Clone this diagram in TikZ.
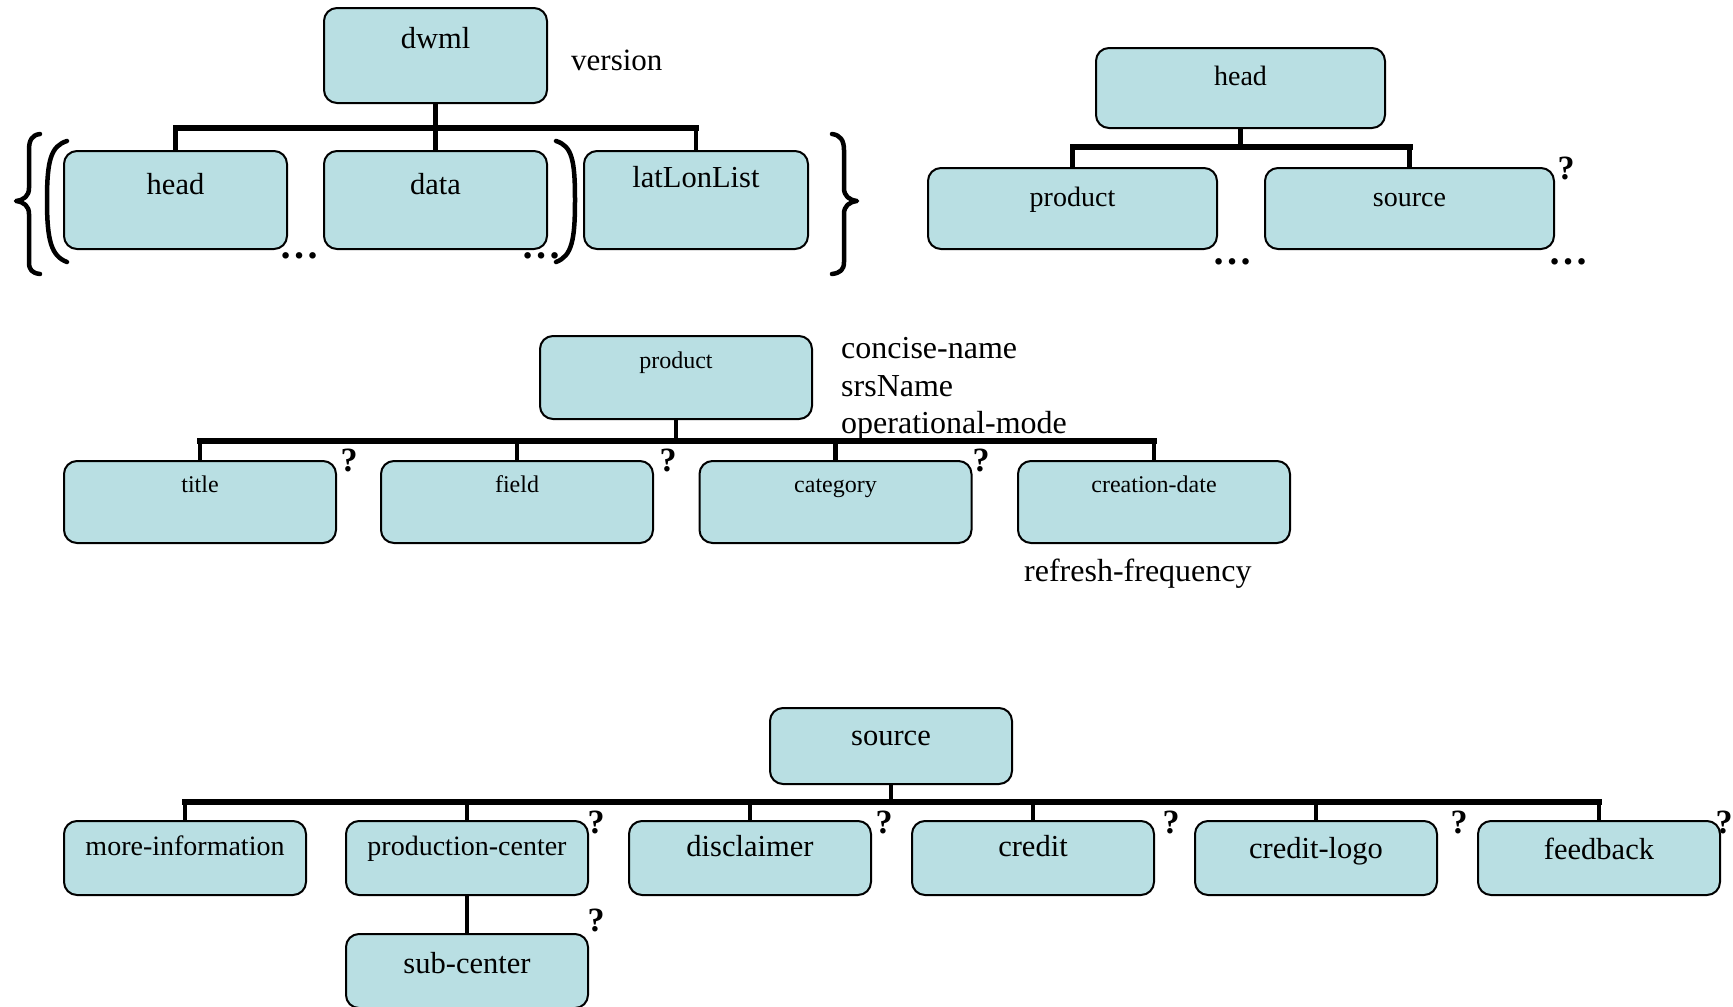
\documentclass[tikz,border=0pt]{standalone}
\usepackage{fontspec}
\setmainfont{Liberation Serif}
\usetikzlibrary{calc}
\definecolor{boxfill}{RGB}{185,223,227}
\newcommand\fsz[1]{\fontsize{#1}{#1}\selectfont}
\begin{document}
\begin{tikzpicture}[x=1pt,y=-1pt,
  box/.style n args={2}{draw=black, line width=2pt, rounded corners=13pt, fill=boxfill,
    inner sep=0pt, minimum width=#1, minimum height=#2},
  lbl/.style={inner sep=0pt, anchor=base},
  attr/.style={inner sep=0pt, anchor=base west, font=\fsz{32}},
  qm/.style={inner sep=0pt, font=\fsz{34}\bfseries},
  dots/.style={inner sep=0pt, font=\fsz{40}\bfseries},
  stem/.style={line width=4.5pt},
  bar/.style={line width=6pt, line cap=rect},
  brk/.style={line width=4.5pt, line cap=round, line join=round}
]
\useasboundingbox (0,0) rectangle (1733,1007);
\clip (0,0) rectangle (1733,1007);

% ---------------- tree 1: dwml ----------------
\node[box={223}{95}] (dwml) at (435.5,55.5) {};
\node[box={223}{98}] (head1) at (175.5,200) {};
\node[box={223}{98}] (data) at (435.5,200) {};
\node[box={224}{98}] (latlon) at (696,200) {};
\node[lbl, font=\fsz{30.5}] (dwmlT) at ([yshift=-41pt]dwml.north) {dwml};
\node[lbl, font=\fsz{30.5}] (head1T) at ([yshift=-44pt]head1.north) {head};
\node[lbl, font=\fsz{30.5}] (dataT) at ([yshift=-44pt]data.north) {data};
\node[lbl, font=\fsz{30.5}] (latlonT) at ([yshift=-37pt]latlon.north) {latLonList};
\node[inner sep=0pt, anchor=base west, font=\fsz{31}] (version) at (571,70) {version};
\coordinate (b1) at (0,128);
\draw[stem] (dwml.south) -- (dwml.south |- b1);
\draw[bar] (head1.north |- b1) -- (latlon.north |- b1);
\foreach \n in {head1,data,latlon} \draw[stem] (\n.north) -- (\n.north |- b1);
\node[dots] (d1) at (299,256) {…};
\node[dots] (d2) at (541,256) {…};
% brackets
\draw[brk] (67,141) .. controls (51,146) and (47,160) .. (47,200) .. controls (47,240) and (51,256) .. (67,262);
\draw[brk] (556,141) .. controls (572,146) and (575,160) .. (575,200) .. controls (575,240) and (572,256) .. (556,262);
\draw[brk] (40,134) .. controls (32,135) and (29,140) .. (29,150) -- (29,188) .. controls (29,196) and (24,200) .. (16,201) .. controls (24,202) and (29,206) .. (29,214) -- (29,262) .. controls (29,270) and (32,273) .. (40,274);
\draw[brk] (832,134) .. controls (840,135) and (844,140) .. (844,150) -- (844,188) .. controls (844,196) and (849,200) .. (857,201) .. controls (849,202) and (844,206) .. (844,214) -- (844,262) .. controls (844,270) and (840,273) .. (832,274);

% ---------------- tree 2: head ----------------
\node[box={289}{80}] (headR) at (1240.5,88) {};
\node[box={289}{81}] (product1) at (1072.5,208.5) {};
\node[box={289}{81}] (source1) at (1409.5,208.5) {};
\node[lbl, font=\fsz{28}] (headRT) at ([yshift=-38pt]headR.north) {head};
\node[lbl, font=\fsz{28}] (product1T) at ([yshift=-39pt]product1.north) {product};
\node[lbl, font=\fsz{28}] (source1T) at ([yshift=-39pt]source1.north) {source};
\coordinate (b2) at (0,147);
\draw[stem] (headR.south) -- (headR.south |- b2);
\draw[bar] (product1.north |- b2) -- (source1.north |- b2);
\foreach \n in {product1,source1} \draw[stem] (\n.north) -- (\n.north |- b2);
\node[qm] (q1) at (1566,168) {?};
\node[dots] (d3) at (1232,262) {…};
\node[dots] (d4) at (1568,262) {…};

% ---------------- tree 3: product ----------------
\node[box={272}{83}] (product2) at (676,377.5) {};
\node[lbl, font=\fsz{24}] (product2T) at ([yshift=-33pt]product2.north) {product};
\node[attr] (a1) at (841,358) {concise-name};
\node[attr] (a2) at (841,396) {srsName};
\node[attr] (a3) at (841,433) {operational-mode};
\node[box={272}{82}] (title) at (200,502) {};
\node[box={272}{82}] (field) at (517,502) {};
\node[box={272}{82}] (category) at (835.5,502) {};
\node[box={272}{82}] (cdate) at (1154,502) {};
\node[lbl, font=\fsz{24}] (titleT) at ([yshift=-32pt]title.north) {title};
\node[lbl, font=\fsz{24}] (fieldT) at ([yshift=-32pt]field.north) {field};
\node[lbl, font=\fsz{24}] (categoryT) at ([yshift=-32pt]category.north) {category};
\node[lbl, font=\fsz{24}] (cdateT) at ([yshift=-32pt]cdate.north) {creation-date};
\node[attr] (a4) at (1024,581) {refresh-frequency};
\coordinate (b3) at (0,441);
\draw[stem] (product2.south) -- (product2.south |- b3);
\draw[bar] (title.north |- b3) -- (cdate.north |- b3);
\foreach \n in {title,field,category,cdate} \draw[stem] (\n.north) -- (\n.north |- b3);
\node[qm] (q2) at (349,460) {?};
\node[qm] (q3) at (668,460) {?};
\node[qm] (q4) at (981,460) {?};

% ---------------- tree 4: source ----------------
\node[box={242}{76}] (source2) at (891,746) {};
\node[lbl, font=\fsz{30.5}] (source2T) at ([yshift=-38pt]source2.north) {source};
\node[box={242}{74}] (more) at (185,858) {};
\node[box={242}{74}] (prodc) at (467,858) {};
\node[box={242}{74}] (discl) at (750,858) {};
\node[box={242}{74}] (credit) at (1033,858) {};
\node[box={242}{74}] (logo) at (1316,858) {};
\node[box={242}{74}] (feedback) at (1599,858) {};
\node[box={242}{74}] (sub) at (467,971) {};
\node[lbl, font=\fsz{28}] (moreT) at ([yshift=-35pt]more.north) {more-information};
\node[lbl, font=\fsz{28}] (prodcT) at ([yshift=-35pt]prodc.north) {production-center};
\node[lbl, font=\fsz{30.5}] (disclT) at ([yshift=-36pt]discl.north) {disclaimer};
\node[lbl, font=\fsz{30.5}] (creditT) at ([yshift=-36pt]credit.north) {credit};
\node[lbl, font=\fsz{30.5}] (logoT) at ([yshift=-38pt]logo.north) {credit-logo};
\node[lbl, font=\fsz{30.5}] (feedbackT) at ([yshift=-39pt]feedback.north) {feedback};
\node[lbl, font=\fsz{30.5}] (subT) at ([yshift=-40pt]sub.north) {sub-center};
\coordinate (b4) at (0,802);
\draw[stem] (source2.south) -- (source2.south |- b4);
\draw[bar] (more.north |- b4) -- (feedback.north |- b4);
\foreach \n in {more,prodc,discl,credit,logo,feedback} \draw[stem] (\n.north) -- (\n.north |- b4);
\draw[stem] (prodc.south) -- (sub.north);
\node[qm] (q5) at (596,822) {?};
\node[qm] (q6) at (884,822) {?};
\node[qm] (q7) at (1171,822) {?};
\node[qm] (q8) at (1459,822) {?};
\node[qm] (q9) at (1724,822) {?};
\node[qm] (q10) at (596,920) {?};
\end{tikzpicture}
\end{document}
